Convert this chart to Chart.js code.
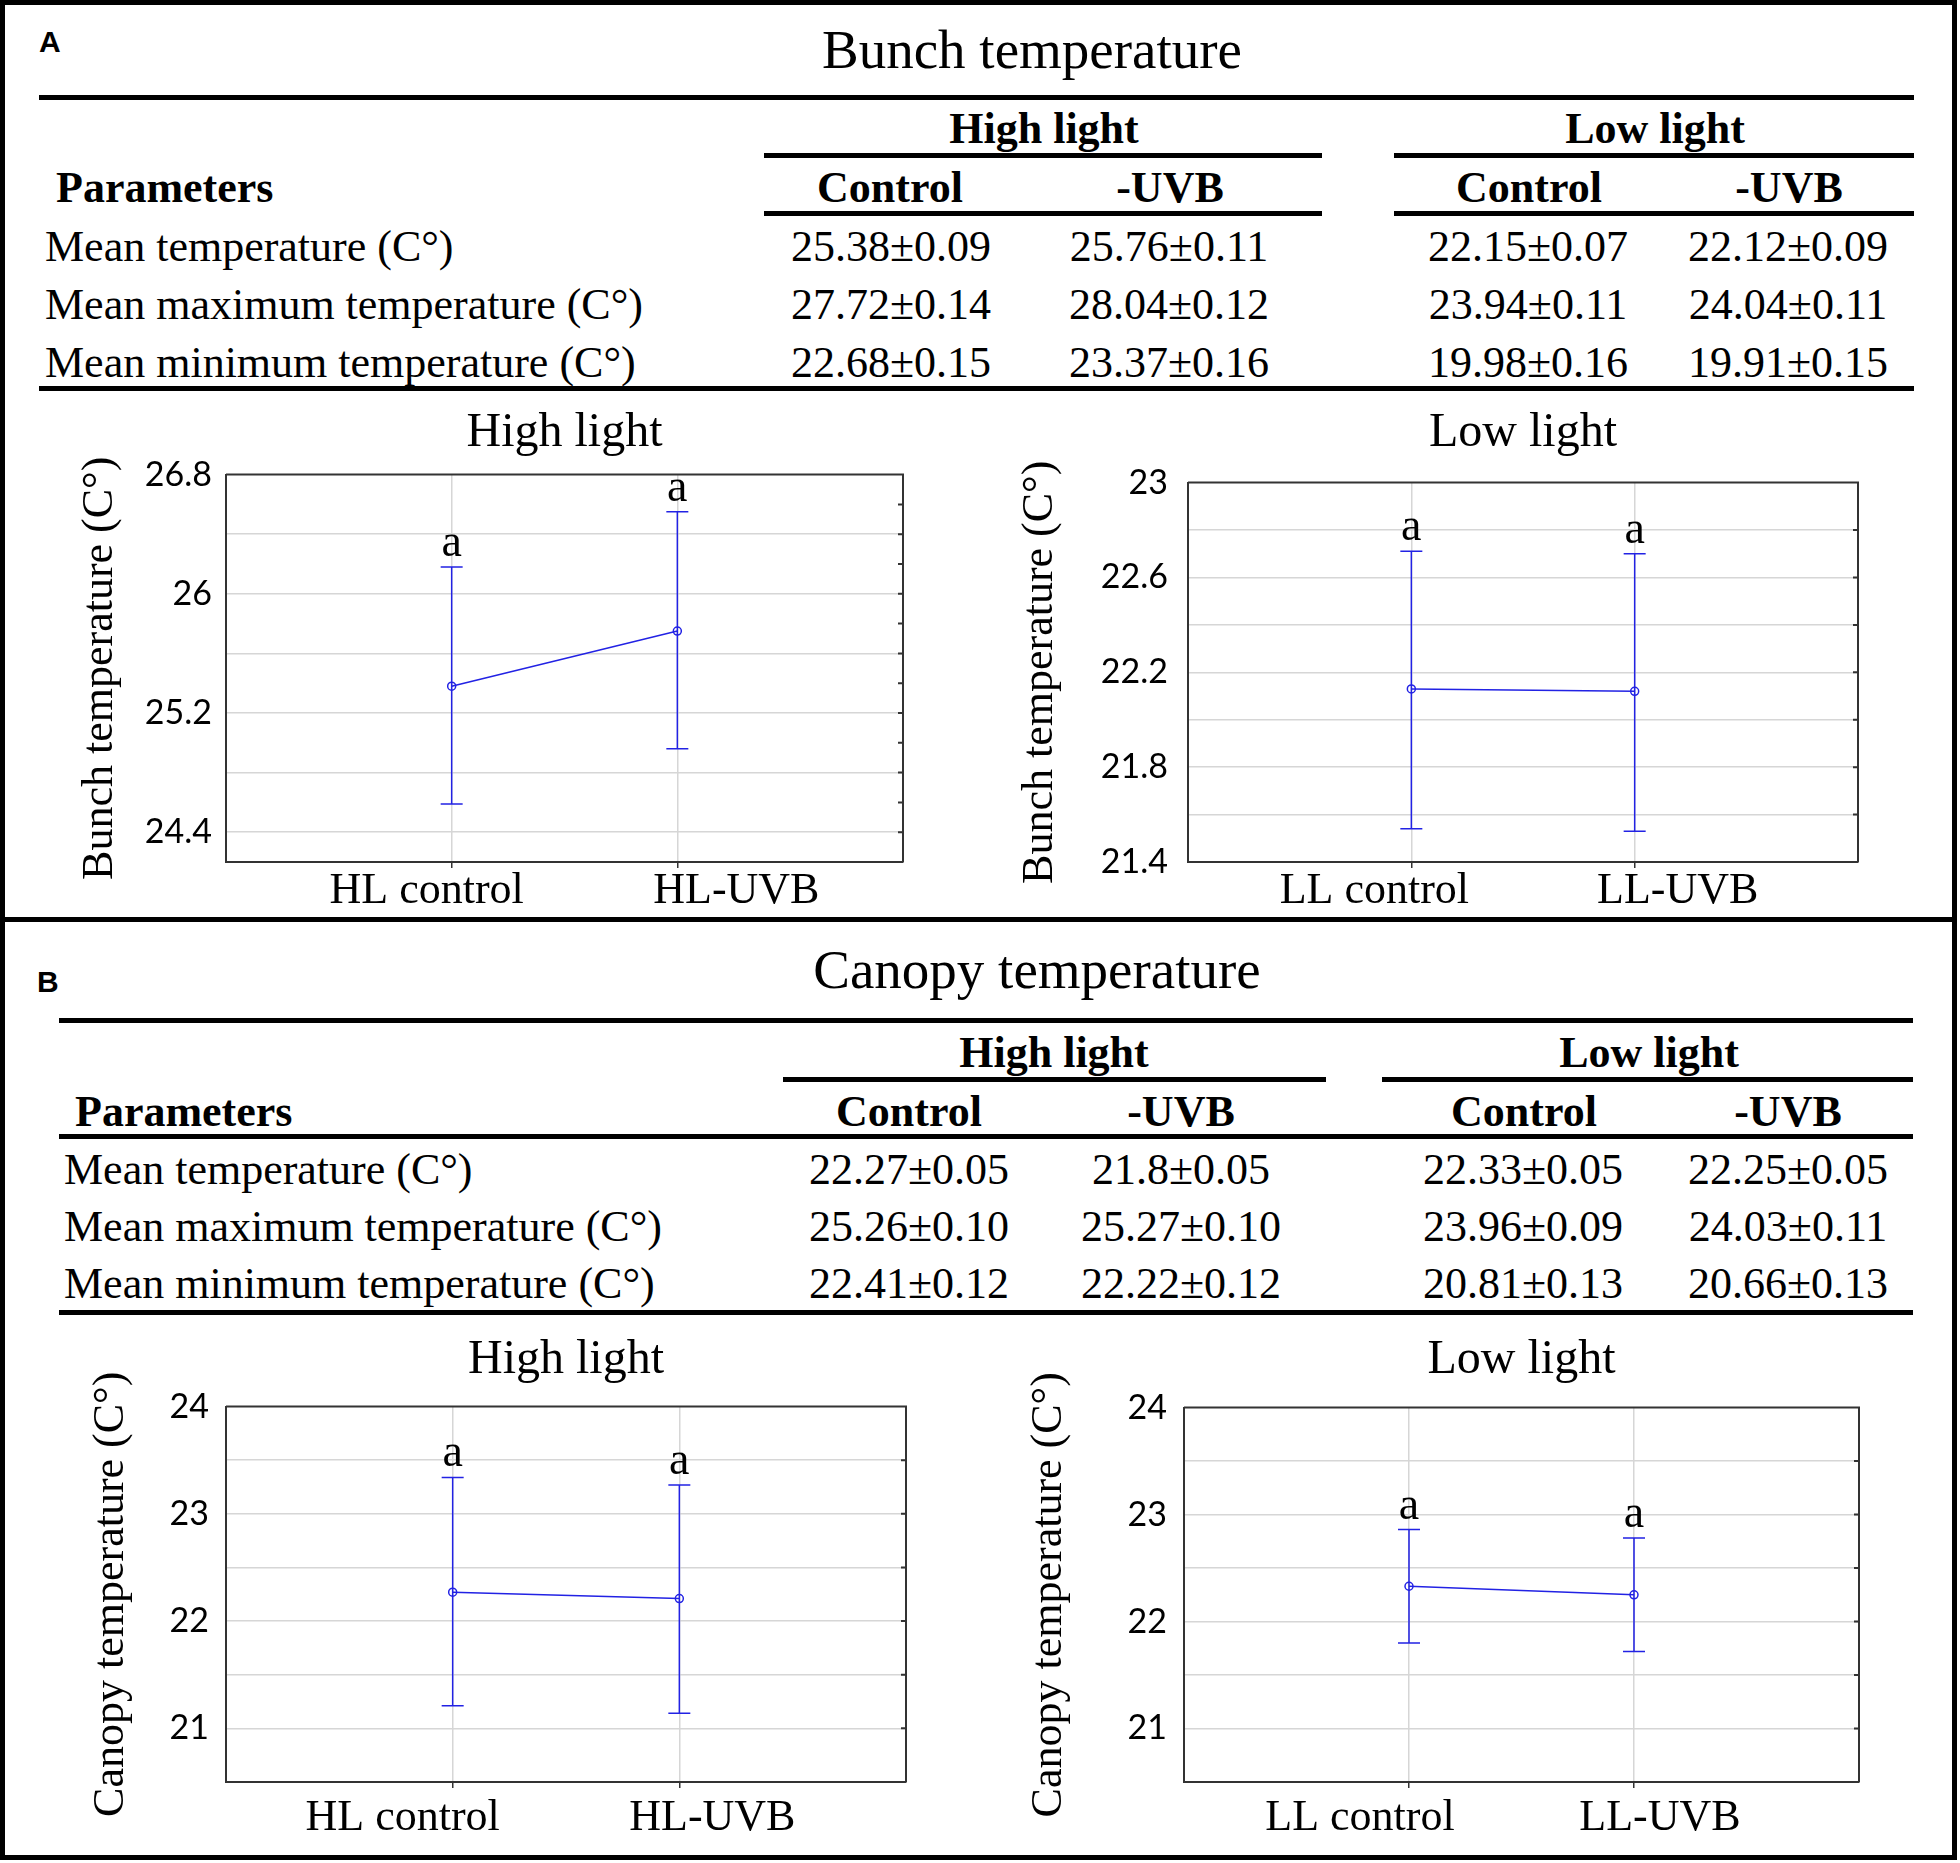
<!DOCTYPE html>
<html>
<head>
<meta charset="utf-8">
<title>Bunch and canopy temperature</title>
<script src="https://cdn.jsdelivr.net/npm/chart.js@4.4.1/dist/chart.umd.min.js"></script>
<style>
  html, body { margin: 0; padding: 0; background: #fff; }
  #page { position: relative; width: 1960px; height: 1863px; overflow: hidden; background: #fff; color: #000; }
  .frame { position: absolute; left: 0; top: 0; width: 1957px; height: 1860px; border: 5px solid #000; box-sizing: border-box; }
  .rule { position: absolute; background: #000; }
  .txt { position: absolute; white-space: nowrap; line-height: 1; }
  .plot { position: absolute; }
</style>
</head>
<body>
<div id="page">
  <div class="frame"></div>
  <div class="rule" style="left:0;top:917px;width:1957px;height:5px"></div>
  <div class="plot" style="left:30px;top:400px"><canvas id="bunchHL" width="900" height="515"></canvas></div>
  <div class="plot" style="left:990px;top:400px"><canvas id="bunchLL" width="900" height="515"></canvas></div>
  <div class="plot" style="left:30px;top:1320px"><canvas id="canopyHL" width="900" height="520"></canvas></div>
  <div class="plot" style="left:990px;top:1320px"><canvas id="canopyLL" width="900" height="520"></canvas></div>
</div>
<script>
// ---- table data ----
var paramLabels = ['Mean temperature (C°)', 'Mean maximum temperature (C°)', 'Mean minimum temperature (C°)'];
var groupNames  = ['High light', 'Low light'];
var treatNames  = ['Control', '-UVB', 'Control', '-UVB'];

var bunchTable = [
  ['25.38±0.09', '25.76±0.11', '22.15±0.07', '22.12±0.09'],
  ['27.72±0.14', '28.04±0.12', '23.94±0.11', '24.04±0.11'],
  ['22.68±0.15', '23.37±0.16', '19.98±0.16', '19.91±0.15']
];
var canopyTable = [
  ['22.27±0.05', '21.8±0.05',  '22.33±0.05', '22.25±0.05'],
  ['25.26±0.10', '25.27±0.10', '23.96±0.09', '24.03±0.11'],
  ['22.41±0.12', '22.22±0.12', '20.81±0.13', '20.66±0.13']
];

// ---- chart data (means with interval ends) ----
var letters = ['a', 'a'];

var bunchHLLabels = ['HL control', 'HL-UVB'];
var bunchHLMean   = [25.38, 25.75];
var bunchHLUpper  = [26.18, 26.55];
var bunchHLLower  = [24.59, 24.96];
var bunchHLTicks  = [24.4, 25.2, 26, 26.8];

var bunchLLLabels = ['LL control', 'LL-UVB'];
var bunchLLMean   = [22.13, 22.12];
var bunchLLUpper  = [22.71, 22.70];
var bunchLLLower  = [21.54, 21.53];
var bunchLLTicks  = [21.4, 21.8, 22.2, 22.6, 23];

var canopyHLLabels = ['HL control', 'HL-UVB'];
var canopyHLMean   = [22.27, 22.21];
var canopyHLUpper  = [23.34, 23.27];
var canopyHLLower  = [21.21, 21.14];

var canopyLLLabels = ['LL control', 'LL-UVB'];
var canopyLLMean   = [22.33, 22.25];
var canopyLLUpper  = [22.86, 22.78];
var canopyLLLower  = [21.80, 21.72];

var canopyTicks = [21, 22, 23, 24];

var SERIF = '"Liberation Serif", "Times New Roman", serif';
var SANS  = '"Liberation Sans", Arial, sans-serif';
var BLUE  = '#2222e4';
var GRID  = '#d6d6d6';
var FRAME = '#333333';

var page = document.getElementById('page');

function addText(str, x, baseline, size, bold, center, family) {
  var el = document.createElement('div');
  var fam = family || SERIF;
  var k = fam === SANS ? 0.846 : 0.8375;
  el.className = 'txt';
  el.textContent = str;
  el.style.fontFamily = fam;
  el.style.fontSize = size + 'px';
  el.style.fontWeight = bold ? 'bold' : 'normal';
  el.style.left = x + 'px';
  el.style.top = (baseline - k * size) + 'px';
  if (center) el.style.transform = 'translateX(-50%)';
  page.appendChild(el);
}

function addRule(x1, x2, yc) {
  var el = document.createElement('div');
  el.className = 'rule';
  el.style.left = x1 + 'px';
  el.style.width = (x2 - x1) + 'px';
  el.style.top = (yc - 2.5) + 'px';
  el.style.height = '5px';
  page.appendChild(el);
}

function drawTable(L, rows) {
  addText(L.letter, L.letterX, L.letterY, 30, true, false, SANS);
  addText(L.title, L.titleX, L.titleY, 55, false, true);
  addRule(L.left, L.right, L.rule1);
  groupNames.forEach(function (g, i) {
    addText(g, L.groupX[i], L.groupY, 44, true, true);
    addRule(L.groupSpan[i][0], L.groupSpan[i][1], L.groupRule);
  });
  addText('Parameters', L.paramX, L.headY, 44, true, false);
  treatNames.forEach(function (t, i) { addText(t, L.headX[i], L.headY, 44, true, true); });
  if (L.fullHeadRule) {
    addRule(L.left, L.right, L.headRule);
  } else {
    L.groupSpan.forEach(function (s) { addRule(s[0], s[1], L.headRule); });
  }
  paramLabels.forEach(function (p, r) {
    addText(p, L.rowX, L.rowY[r], 44, false, false);
    rows[r].forEach(function (v, c) { addText(v, L.valX[c], L.rowY[r], 44, false, true); });
  });
  addRule(L.left, L.right, L.bottomRule);
}

drawTable({
  letter: 'A', letterX: 39, letterY: 52,
  title: 'Bunch temperature', titleX: 1032, titleY: 68,
  left: 39, right: 1914, rule1: 97,
  groupX: [1044, 1655], groupY: 144, groupSpan: [[764, 1322], [1394, 1914]], groupRule: 155,
  paramX: 56, headY: 203, headX: [890, 1170, 1529, 1789], headRule: 213, fullHeadRule: false,
  rowX: 45, rowY: [262, 320, 378], valX: [891, 1169, 1528, 1788], bottomRule: 388
}, bunchTable);

drawTable({
  letter: 'B', letterX: 37, letterY: 992,
  title: 'Canopy temperature', titleX: 1037, titleY: 988,
  left: 59, right: 1913, rule1: 1020,
  groupX: [1054, 1649], groupY: 1068, groupSpan: [[783, 1326], [1382, 1913]], groupRule: 1079,
  paramX: 75, headY: 1127, headX: [909, 1181, 1524, 1788], headRule: 1136, fullHeadRule: true,
  rowX: 64, rowY: [1185, 1242, 1299], valX: [909, 1181, 1523, 1788], bottomRule: 1312
}, canopyTable);

// error bars, letters, frame and category labels
var errorBarPlugin = {
  id: 'errorBars',
  afterDatasetsDraw: function (chart, args, o) {
    var ctx = chart.ctx, a = chart.chartArea, x = chart.scales.x, y = chart.scales.y;
    ctx.save();
    ctx.strokeStyle = FRAME;
    ctx.lineWidth = 2;
    ctx.beginPath();
    ctx.moveTo(a.left, a.top);
    ctx.lineTo(a.right, a.top);
    ctx.lineTo(a.right, a.bottom);
    y.ticks.forEach(function (t) {
      var py = y.getPixelForValue(t.value);
      ctx.moveTo(a.right - 5, py);
      ctx.lineTo(a.right, py);
    });
    ctx.stroke();

    o.upper.forEach(function (u, i) {
      var px = x.getPixelForValue(i + 1);
      var top = y.getPixelForValue(u);
      var bot = y.getPixelForValue(o.lower[i]);
      ctx.strokeStyle = BLUE;
      ctx.lineWidth = 1.5;
      ctx.beginPath();
      ctx.moveTo(px, top); ctx.lineTo(px, bot);
      ctx.moveTo(px - 11, top); ctx.lineTo(px + 11, top);
      ctx.moveTo(px - 11, bot); ctx.lineTo(px + 11, bot);
      ctx.stroke();

      ctx.fillStyle = '#000';
      ctx.textAlign = 'center';
      ctx.textBaseline = 'alphabetic';
      ctx.font = '46px ' + SERIF;
      ctx.fillText(o.letters[i], px, top - 11);
      ctx.font = '44px ' + SERIF;
      ctx.fillText(o.labels[i], px + o.labelShift[i], a.bottom + o.labelGap);
    });
    ctx.restore();
  }
};

function isStep(v, step) {
  var q = v / step;
  return Math.abs(q - Math.round(q)) < 1e-6;
}

function makeChart(id, c) {
  var canvas = document.getElementById(id);
  return new Chart(canvas, {
    type: 'line',
    data: {
      datasets: [{
        data: c.mean.map(function (m, i) { return { x: i + 1, y: m }; }),
        borderColor: BLUE,
        borderWidth: 1.5,
        pointRadius: 4,
        pointBorderWidth: 1.5,
        pointBorderColor: BLUE,
        pointBackgroundColor: 'rgba(0,0,0,0)',
        tension: 0
      }]
    },
    options: {
      responsive: false,
      animation: false,
      devicePixelRatio: 1,
      layout: { padding: { left: 0, right: c.padRight, top: 0, bottom: 0 } },
      plugins: {
        legend: { display: false },
        tooltip: { enabled: false },
        title: {
          display: true, text: c.title, color: '#000', fullSize: false,
          font: { family: SERIF, size: 48, weight: 'normal', lineHeight: 1.2 },
          padding: { top: c.titleTop, bottom: c.titleBottom }
        },
        errorBars: {
          upper: c.upper, lower: c.lower, letters: letters,
          labels: c.labels, labelShift: c.labelShift, labelGap: c.labelGap
        }
      },
      scales: {
        x: {
          type: 'linear', min: 0, max: 3,
          ticks: { display: false, stepSize: 1 },
          grid: {
            lineWidth: 1.5, tickLength: 6,
            color: function (ctx) { return ctx.tick && ctx.tick.value > 0 && ctx.tick.value < 3 ? GRID : 'rgba(0,0,0,0)'; },
            tickColor: function (ctx) { return ctx.tick && ctx.tick.value > 0 && ctx.tick.value < 3 ? FRAME : 'rgba(0,0,0,0)'; }
          },
          border: { color: FRAME, width: 2 },
          afterFit: function (s) { s.height = c.xHeight; }
        },
        y: {
          type: 'linear', min: c.yMin, max: c.yMax,
          ticks: {
            stepSize: c.yStep, autoSkip: false, padding: c.tickPad, color: '#000',
            font: { family: 'Lato', size: 34 },
            callback: function (v) {
              var t = c.yTicks.find(function (t) { return Math.abs(t - v) < 1e-6; });
              return t === undefined ? '' : String(t);
            }
          },
          grid: {
            lineWidth: 1.5, drawTicks: false,
            color: function (ctx) {
              var v = ctx.tick ? ctx.tick.value : NaN;
              return v > c.yMin + 1e-6 && v < c.yMax - 1e-6 && isStep(v, c.gridStep) ? GRID : 'rgba(0,0,0,0)';
            }
          },
          border: { color: FRAME, width: 2 },
          title: {
            display: true, text: c.yTitle, color: '#000',
            font: { family: SERIF, size: 44, weight: 'normal', lineHeight: 1.2 },
            padding: { top: c.yTitlePad, bottom: 0 }
          },
          afterFit: function (s) { s.width = c.yWidth; }
        }
      }
    },
    plugins: [errorBarPlugin]
  });
}

makeChart('bunchHL', {
  title: 'High light', yTitle: 'Bunch temperature (C°)',
  labels: bunchHLLabels, mean: bunchHLMean, upper: bunchHLUpper, lower: bunchHLLower,
  yMin: 24.2, yMax: 26.8, yStep: 0.2, gridStep: 0.4, yTicks: bunchHLTicks,
  padRight: 27, titleTop: 5, titleBottom: 12, yWidth: 196, xHeight: 53,
  tickPad: 14, yTitlePad: 44, labelShift: [-25, 59], labelGap: 41
});

makeChart('bunchLL', {
  title: 'Low light', yTitle: 'Bunch temperature (C°)',
  labels: bunchLLLabels, mean: bunchLLMean, upper: bunchLLUpper, lower: bunchLLLower,
  yMin: 21.4, yMax: 23, yStep: 0.2, gridStep: 0.2, yTicks: bunchLLTicks,
  padRight: 32, titleTop: 5, titleBottom: 20, yWidth: 198, xHeight: 53,
  tickPad: 20, yTitlePad: 24, labelShift: [-37, 43], labelGap: 41
});

makeChart('canopyHL', {
  title: 'High light', yTitle: 'Canopy temperature (C°)',
  labels: canopyHLLabels, mean: canopyHLMean, upper: canopyHLUpper, lower: canopyHLLower,
  yMin: 20.5, yMax: 24, yStep: 0.5, gridStep: 0.5, yTicks: canopyTicks,
  padRight: 24, titleTop: 12, titleBottom: 17, yWidth: 196, xHeight: 58,
  tickPad: 17, yTitlePad: 55, labelShift: [-50, 33], labelGap: 48
});

makeChart('canopyLL', {
  title: 'Low light', yTitle: 'Canopy temperature (C°)',
  labels: canopyLLLabels, mean: canopyLLMean, upper: canopyLLUpper, lower: canopyLLLower,
  yMin: 20.5, yMax: 24, yStep: 0.5, gridStep: 0.5, yTicks: canopyTicks,
  padRight: 31, titleTop: 12, titleBottom: 18, yWidth: 194, xHeight: 58,
  tickPad: 17, yTitlePad: 33, labelShift: [-49, 26], labelGap: 48
});
</script>
</body>
</html>
